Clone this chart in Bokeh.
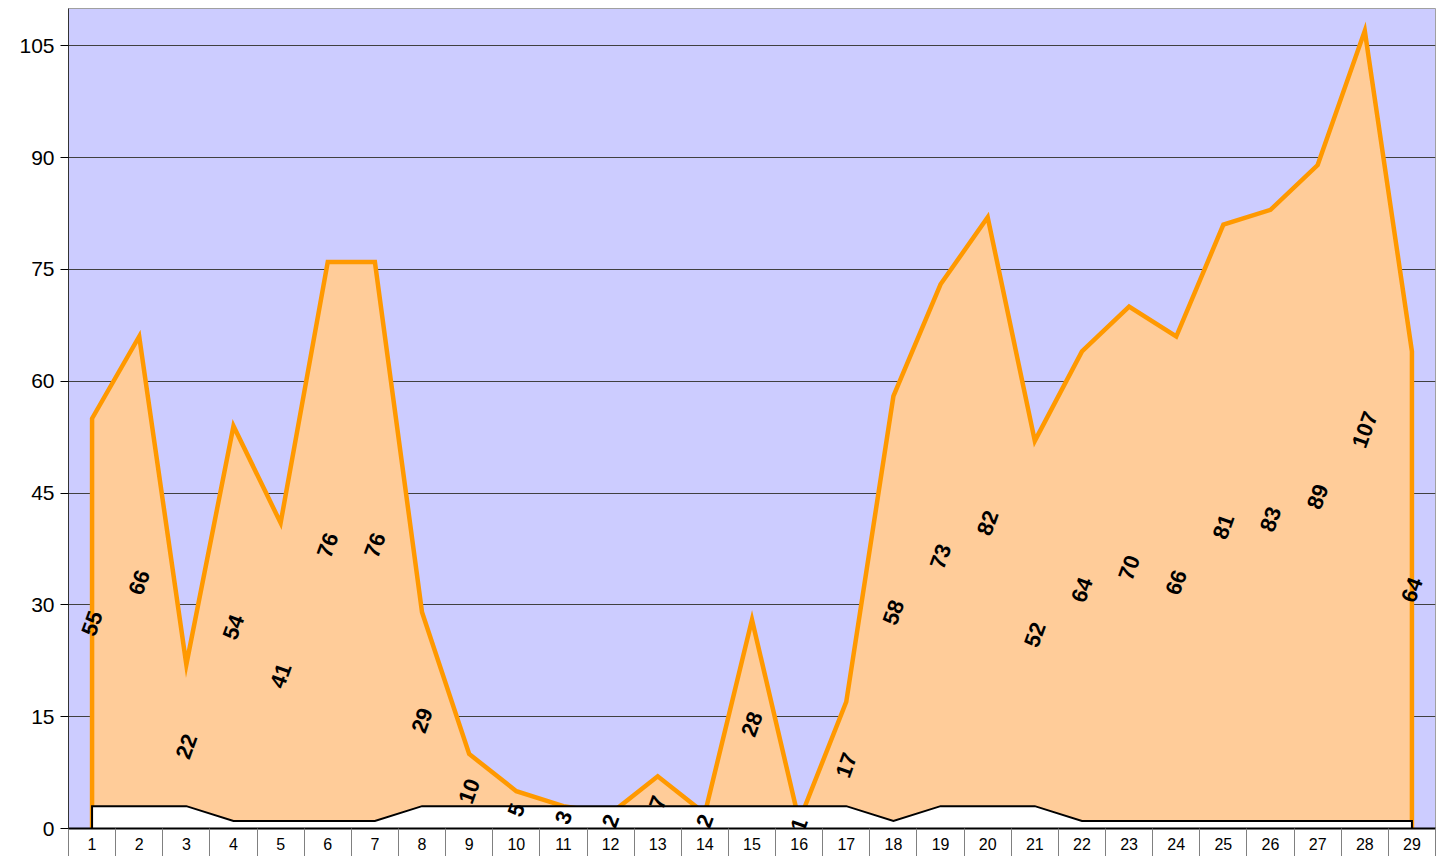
from bokeh.plotting import figure
from bokeh.models import Range1d, FixedTicker, ColumnDataSource
from bokeh.embed import file_html
from bokeh.resources import INLINE
from bokeh.core.properties import value

categories = [str(i) for i in range(1, 30)]
main_values = [55, 66, 22, 54, 41, 76, 76, 29, 10, 5, 3, 2, 7, 2, 28, 1, 17,
               58, 73, 82, 52, 64, 70, 66, 81, 83, 89, 107, 64]
base_values = [3, 3, 3, 1, 1, 1, 1, 3, 3, 3, 3, 3, 3, 3, 3, 3, 3,
               1, 3, 3, 3, 1, 1, 1, 1, 1, 1, 1, 1]
y_ticks = [0, 15, 30, 45, 60, 75, 90, 105]

xs = list(range(1, len(categories) + 1))

p = figure(width=1440, height=856, output_backend="svg", toolbar_location=None,
           x_range=Range1d(0.5, len(categories) + 0.5), y_range=Range1d(0, 110),
           min_border_left=68, min_border_top=8, min_border_right=5, min_border_bottom=28)

p.background_fill_color = "#CCCCFF"
p.border_fill_color = "white"
p.outline_line_color = "#A0A0A0"
p.outline_line_width = 1

# grid
p.xgrid.visible = False
p.ygrid.ticker = FixedTicker(ticks=y_ticks)
p.ygrid.grid_line_color = "#404040"
p.ygrid.grid_line_width = 1

# y axis
p.yaxis.ticker = FixedTicker(ticks=y_ticks)
p.yaxis.axis_line_color = "#333333"
p.yaxis.major_tick_line_color = "black"
p.yaxis.major_tick_out = 8
p.yaxis.major_tick_in = 0
p.yaxis.minor_tick_line_color = None
p.yaxis.major_label_text_font = "Liberation Sans"
p.yaxis.major_label_text_font_size = "21px"
p.yaxis.major_label_text_color = "black"
p.yaxis.major_label_standoff = 6

# x axis
p.xaxis.ticker = FixedTicker(ticks=xs, minor_ticks=[i + 0.5 for i in range(0, len(categories) + 1)])
p.xaxis.major_label_overrides = {x: c for x, c in zip(xs, categories)}
p.xaxis.axis_line_color = "black"
p.xaxis.axis_line_width = 2
p.xaxis.major_tick_line_color = None
p.xaxis.major_tick_out = 0
p.xaxis.major_tick_in = 0
p.xaxis.minor_tick_line_color = "#808080"
p.xaxis.minor_tick_out = 28
p.xaxis.minor_tick_in = 0
p.xaxis.major_label_text_font = "Liberation Sans"
p.xaxis.major_label_text_font_size = "16px"
p.xaxis.major_label_text_color = "black"
p.xaxis.major_label_standoff = -19

# orange area
p.varea(x=xs, y1=[0] * len(xs), y2=main_values, fill_color="#FFCC99")
p.line(x=[xs[0]] + xs + [xs[-1]], y=[0] + main_values + [0],
       line_color="#FF9900", line_width=4.5, line_join="miter")

# white base area
p.varea(x=xs, y1=[0] * len(xs), y2=base_values, fill_color="white")
p.line(x=[xs[0]] + xs + [xs[-1]], y=[0] + base_values + [0],
       line_color="black", line_width=2, line_join="miter")

# labels
src = ColumnDataSource(dict(x=xs, y=[v / 2 for v in main_values],
                            t=[str(v) for v in main_values]))
p.text(x="x", y="y", text="t", source=src, angle=70, angle_units="deg",
       text_align="center", text_baseline="middle",
       text_font=value("Liberation Sans"), text_font_style="bold",
       text_font_size="22px", text_color="black")

open("out.html", "w").write(file_html(p, INLINE))
